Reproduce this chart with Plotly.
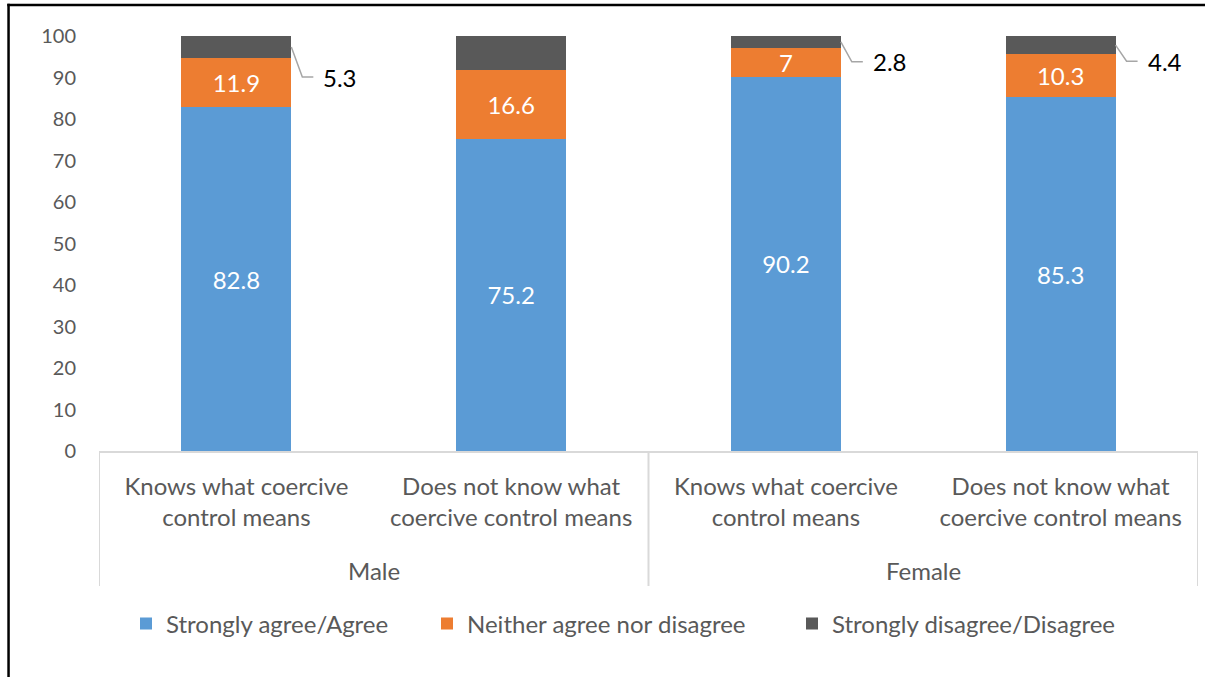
import plotly.graph_objects as go

# Survey results: share of respondents per answer, by gender and knowledge of coercive control (%)
groups = ["Male", "Female"]
knowledge = [
    "Knows what coercive<br>control means",
    "Does not know what<br>coercive control means",
    "Knows what coercive<br>control means",
    "Does not know what<br>coercive control means",
]
agree = [82.8, 75.2, 90.2, 85.3]
neither = [11.9, 16.6, 7, 10.3]
disagree = [5.3, 8.2, 2.8, 4.4]
series_names = ["Strongly agree/Agree", "Neither agree nor disagree", "Strongly disagree/Disagree"]

colors = ["#5B9BD5", "#ED7D31", "#595959"]
FONT = "Lato"
GREY_TXT = "#595959"
AXIS_GREY = "#D9D9D9"

# Plot-area geometry in pixels (used to convert to paper coordinates)
W, H = 1205, 677
ML, MR, MT, MB = 99, 7, 36, 226
PW, PH = W - ML - MR, H - MT - MB


def px_x(px):
    return (px - ML) / PW


def px_y(py):
    return (H - MB - py) / PH


# Small top segments get an outside callout; pixel drop of each callout label
callout_drop = [30, None, 20, 16]
# Left edge (px) of each legend entry's swatch
legend_left = [140, 441, 806]

positions = list(range(len(knowledge)))


def fmt(v):
    return f"{v:g}"


fig = go.Figure()
series = [agree, neither, disagree]
for k, (name, vals, col) in enumerate(zip(series_names, series, colors)):
    if vals is disagree:
        txt = ["" if callout_drop[i] is not None else fmt(v) for i, v in enumerate(vals)]
    else:
        txt = [fmt(v) for v in vals]
    fig.add_trace(go.Bar(
        x=positions, y=vals, name=name,
        marker=dict(color=col, line=dict(width=0)),
        text=txt, textposition="inside", insidetextanchor="middle",
        textangle=0, constraintext="none",
        textfont=dict(family=FONT, size=24, color="white"),
        cliponaxis=False,
        legend="legend" if k == 0 else f"legend{k + 1}",
    ))

half_bar = 0.2
for i, drop in enumerate(callout_drop):
    if drop is None:
        continue
    mid = agree[i] + neither[i] + disagree[i] / 2
    fig.add_shape(type="path", xref="x", yref="y", xsizemode="pixel", ysizemode="pixel",
                  xanchor=i + half_bar, yanchor=mid,
                  path=f"M0,0 L11,{-drop} L22,{-drop}",
                  line=dict(color="#A6A6A6", width=1.5))
    fig.add_annotation(x=i + half_bar, y=mid, xref="x", yref="y", text=fmt(disagree[i]),
                       showarrow=False, xanchor="left", yanchor="middle",
                       xshift=30, yshift=-drop,
                       font=dict(family=FONT, size=24, color="black"))

# Group (gender) labels and the category box dividers
n_sub = len(knowledge) // len(groups)
for g, gname in enumerate(groups):
    centre = g * n_sub + (n_sub - 1) / 2
    fig.add_annotation(x=centre, y=px_y(570), xref="x", yref="paper", text=gname,
                       showarrow=False, xanchor="center", yanchor="middle",
                       font=dict(family=FONT, size=24, color=GREY_TXT))
for g in range(len(groups) + 1):
    xd = g * n_sub - 0.5
    fig.add_shape(type="line", xref="x", yref="paper", x0=xd, x1=xd, y0=0, y1=px_y(586),
                  line=dict(color=AXIS_GREY, width=2))

# Page frame: thin filled bars along the top and left edges
frame = dict(type="rect", xref="paper", yref="paper", fillcolor="black",
             line=dict(width=0), layer="above")
fig.add_shape(x0=px_x(7.3), x1=px_x(W), y0=px_y(3.8), y1=px_y(6.3), **frame)
fig.add_shape(x0=px_x(7.3), x1=px_x(9.8), y0=px_y(3.8), y1=px_y(H), **frame)

legend_common = dict(orientation="h", xanchor="left", y=px_y(624), yanchor="middle",
                     font=dict(family=FONT, size=24, color=GREY_TXT), bgcolor="rgba(0,0,0,0)")

fig.update_layout(
    width=W, height=H,
    margin=dict(l=ML, r=MR, t=MT, b=MB),
    paper_bgcolor="white", plot_bgcolor="white",
    barmode="stack", bargap=0.6,
    font=dict(family=FONT, size=24, color=GREY_TXT),
    showlegend=True,
    legend=dict(x=px_x(legend_left[0] - 14), **legend_common),
    legend2=dict(x=px_x(legend_left[1] - 14), **legend_common),
    legend3=dict(x=px_x(legend_left[2] - 14), **legend_common),
    xaxis=dict(range=[-0.5, len(knowledge) - 0.5], tickvals=positions, ticktext=knowledge,
               showline=True, linecolor=AXIS_GREY, linewidth=2, ticks="",
               ticklabelstandoff=13, showgrid=False, zeroline=False,
               tickfont=dict(family=FONT, size=24, color=GREY_TXT)),
    yaxis=dict(range=[0, 100], dtick=10, showgrid=False, zeroline=False, showline=False,
               ticks="", ticklabelstandoff=22,
               tickfont=dict(family=FONT, size=20, color=GREY_TXT)),
)

fig.write_html("out.html", config={"displayModeBar": False})
